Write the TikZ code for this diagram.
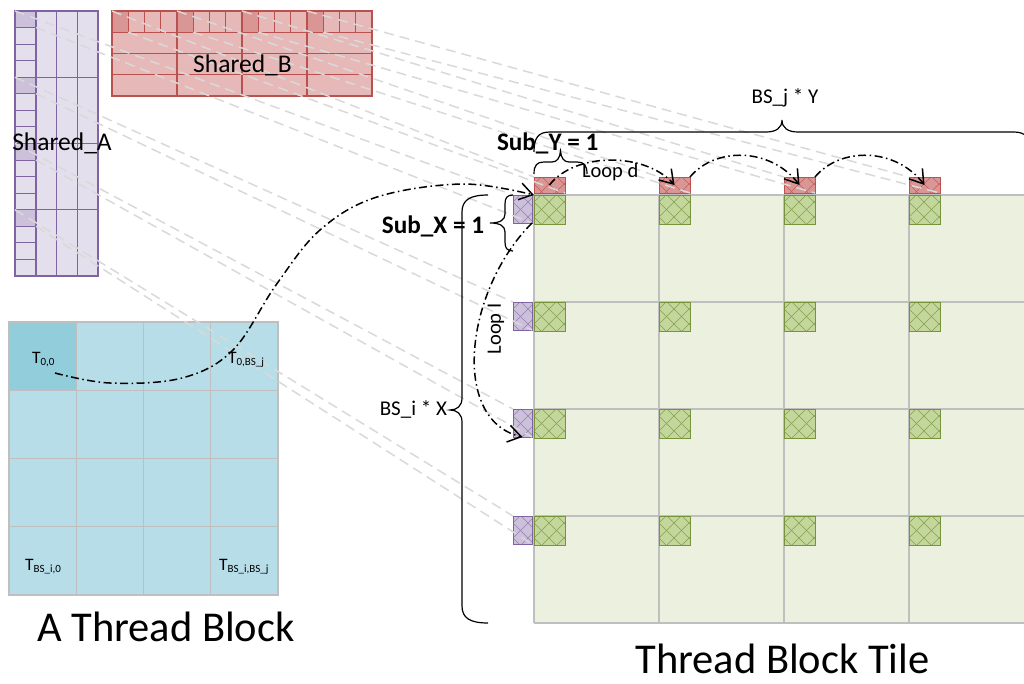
\documentclass[tikz,border=0pt]{standalone}
\usepackage{fontspec}
\setmainfont{Carlito}
\usetikzlibrary{arrows.meta,calc}
\definecolor{saFill}{HTML}{E4DFEC}
\definecolor{saDark}{HTML}{CCC0DA}
\definecolor{saLine}{HTML}{8064A2}
\definecolor{sbFill}{HTML}{E6B9B8}
\definecolor{sbDark}{HTML}{DA9694}
\definecolor{sbLine}{HTML}{B9514E}
\definecolor{tbFill}{HTML}{B7DEE8}
\definecolor{tbDark}{HTML}{92CDDC}
\definecolor{gridGray}{HTML}{BFBFBF}
\definecolor{tileFill}{HTML}{EBF1DE}
\definecolor{grFill}{HTML}{C3D69B}
\definecolor{grLine}{HTML}{77933C}
\definecolor{rdFill}{HTML}{D99694}
\definecolor{rdLine}{HTML}{C0504D}
\definecolor{puFill}{HTML}{CCC0DA}
\definecolor{dashGray}{HTML}{D9D9D9}
\newcommand\fsLbl{\fontsize{25.5}{30}\selectfont}
\newcommand\fsBig{\fontsize{42.5}{50}\selectfont}
\newcommand\fsMid{\fontsize{21}{25}\selectfont}
\newcommand\fsLoop{\fontsize{20.5}{24}\selectfont}
\newcommand\fsSub{\fontsize{25.2}{30}\selectfont\bfseries}
\newcommand\tlab[1]{\fontsize{17.5}{20}\selectfont T\raisebox{-0.35ex}{\fontsize{11}{12}\selectfont #1}}
\begin{document}
\begin{tikzpicture}[x=1pt,y=-1pt,
  cellbox/.style={inner sep=0pt, outer sep=0pt, anchor=north west},
  hatch/.style={path picture={
    \foreach \c in {-37,-22,-7,8,23,38}{
      \draw[#1,line width=0.45pt] ($(path picture bounding box.north west)+(\c,0)$) -- ++(50,50);}
    \foreach \c in {-8,7,22,37,52,67}{
      \draw[#1,line width=0.45pt] ($(path picture bounding box.north west)+(\c,0)$) -- ++(-50,50);}
  }},
  gsq/.style={cellbox, draw=grLine, fill=grFill, line width=1pt, minimum width=31pt, minimum height=29pt, hatch=grLine!80!grFill},
  rsq/.style={cellbox, draw=rdLine, fill=rdFill, line width=1pt, minimum width=31pt, minimum height=16pt, hatch=rdLine!80!rdFill},
  psq/.style={cellbox, draw=saLine, fill=puFill, line width=1pt, minimum width=19pt, minimum height=28pt, hatch=saLine!70!puFill},
  gline/.style={dashGray, line width=1.5pt, dash pattern=on 10pt off 6pt},
  gridln/.style={gridGray, line width=1.3pt},
  loopline/.style={black, line width=1.5pt, dash pattern=on 8pt off 3.5pt on 1.5pt off 3.5pt, -{Straight Barb[length=13pt,width=17pt,line width=1.5pt]}},
  bracel/.style={black, line width=1.2pt},
  txt/.style={inner sep=0pt, outer sep=0pt, text=black}
]
\useasboundingbox (0,0) rectangle (1024,683);
\clip (0,0) rectangle (1024,683);

% ---------- Shared_A ----------
\fill[saFill] (15,11) rectangle (98,276);
\foreach \i in {0,...,3}
  \node[cellbox, fill=saDark, minimum width=21pt, minimum height=16.5pt] (sa\i) at (15,{11+66.25*\i}) {};
\foreach \x in {36,56.7,77.3} \draw[saLine,line width=1.2pt] (\x,11) -- (\x,276);
\foreach \i in {1,2,3} \draw[saLine,line width=1.2pt] (15,{11+66.25*\i}) -- (98,{11+66.25*\i});
\foreach \i in {0,...,3}{\foreach \j in {1,2,3}{\draw[saLine,line width=1pt] (15,{11+66.25*\i+16.5625*\j}) -- (36,{11+66.25*\i+16.5625*\j});}}
\draw[saLine,line width=1.4pt] (15,11) rectangle (98,276);

% ---------- Shared_B ----------
\fill[sbFill] (112,11) rectangle (372,96);
\foreach \i in {0,...,3}
  \node[cellbox, fill=sbDark, minimum width=16.25pt, minimum height=21.25pt] (sb\i) at ({112+65*\i},11) {};
\foreach \i in {1,2,3} \draw[sbLine,line width=1.2pt] ({112+65*\i},11) -- ({112+65*\i},96);
\foreach \i in {1,2,3} \draw[sbLine,line width=1.2pt] (112,{11+21.25*\i}) -- (372,{11+21.25*\i});
\foreach \i in {0,...,3}{\foreach \j in {1,2,3}{\draw[sbLine,line width=1pt] ({112+65*\i+16.25*\j},11) -- ({112+65*\i+16.25*\j},32.25);}}
\draw[sbLine,line width=1.4pt] (112,11) rectangle (372,96);

% ---------- Thread block ----------
\fill[tbFill] (9,322) rectangle (278,595);
\node[cellbox, fill=tbDark, minimum width=67.25pt, minimum height=68.25pt] (tb00) at (9,322) {};
\foreach \i in {1,2,3}{
  \draw[gridln] ({9+67.25*\i},322) -- ({9+67.25*\i},595);
  \draw[gridln] (9,{322+68.25*\i}) -- (278,{322+68.25*\i});}
\draw[gridln] (9,322) rectangle (278,595);

% ---------- Thread block tile ----------
\fill[tileFill] (534,195) rectangle (1034,623);
\foreach \j in {0,...,3} \draw[gridln] ({534+125*\j},195) -- ({534+125*\j},623);
\foreach \i in {0,...,4} \draw[gridln] (534,{195+107*\i}) -- (1034,{195+107*\i});
\foreach \i in {0,...,3}{
  \node[psq] (p\i) at (513,{195+107*\i}) {};
  \foreach \j in {0,...,3} \node[gsq] (g\i\j) at ({534+125*\j},{195+107*\i}) {};
}
\foreach \j in {0,...,3} \node[rsq] (r\j) at ({534+125*\j},177) {};

% ---------- gray dashed mapping lines ----------
\foreach \k in {0,...,3}{
  \draw[gline] (sa\k.north west) -- (p\k.north west);
  \draw[gline] (sa\k.south east) -- (p\k.south east);
  \draw[gline] (sb\k.north west) -- (r\k.north west);
  \draw[gline] (sb\k.south east) -- (r\k.south east);
}

% ---------- labels ----------
\node[txt, anchor=base] (lA) at (62,150) {\fsLbl Shared\_A};
\node[txt, anchor=base] (lB) at (242.5,72) {\fsLbl Shared\_B};
\node[txt, anchor=base] (lTB) at (166,641) {\fsBig A Thread Block};
\node[txt, anchor=base] (lTT) at (782.5,673) {\fsBig Thread Block Tile};
\node[txt, anchor=base west] (t00) at (32,363) {\tlab{0,0}};
\node[txt, anchor=base west] (t0j) at (228,363) {\tlab{0,BS\_j}};
\node[txt, anchor=base west] (ti0) at (25,570) {\tlab{BS\_i,0}};
\node[txt, anchor=base west] (tij) at (219,570) {\tlab{BS\_i,BS\_j}};
\node[txt, anchor=base] (lBSj) at (785,103) {\fsMid BS\_j * Y};
\node[txt, anchor=base east] (lBSi) at (447,415) {\fsMid BS\_i * X};
\node[txt, anchor=base west] (lSubY) at (497,150.5) {\fsSub Sub\_Y = 1};
\node[txt, anchor=base east] (lSubX) at (484,233) {\fsSub Sub\_X = 1};
\node[txt, anchor=base west] (lLoopJ) at (582,177) {\fsLoop Loop d};
\node[txt, rotate=90] (lLoopI) at (496,329) {\fsLoop Loop I};

% ---------- braces ----------
\draw[bracel] (534,152) .. controls (534,138) and (538,132) .. (550,132) -- (766,132)
  .. controls (776,132) and (782,128) .. (782,120) .. controls (782,128) and (788,132) .. (798,132)
  -- (1014,132) .. controls (1026,132) and (1030,138) .. (1030,152);
\draw[bracel] (534,174) .. controls (534,165) and (537,162) .. (544,162) -- (552,162)
  .. controls (557,162) and (560,158) .. (560.5,151) .. controls (561,158) and (564,162) .. (569,162)
  -- (577,162) .. controls (584,162) and (587,165) .. (587,174);
\draw[bracel] (513,195) .. controls (507,195) and (505,198) .. (505,204) -- (505,214)
  .. controls (505,220) and (500,223) .. (490,223) .. controls (500,223) and (505,226) .. (505,232)
  -- (505,242) .. controls (505,248) and (507,251) .. (513,251);
\draw[bracel] (488,195) .. controls (470,195) and (462,200) .. (462,212) -- (462,398)
  .. controls (462,406) and (457,410) .. (450,410) .. controls (457,410) and (462,414) .. (462,422)
  -- (462,606) .. controls (462,618) and (470,623) .. (488,623);

% ---------- loops ----------
\coordinate (c00) at (55,373);
\draw[loopline] plot[smooth, tension=0.6] coordinates {(c00) (110,383) (182,378) (233,350) (276,285) (320,230) (377,197) (463,184) (g00.north west)};
\draw[loopline] (r0.center) .. controls (575,152) and (645,152) .. (r1.center);
\draw[loopline] (r1.north east) .. controls (715,147) and (770,147) .. (r2.center);
\draw[loopline] (r2.north east) .. controls (840,147) and (895,147) .. (r3.center);
\draw[loopline] (p0.south east) .. controls (465,290) and (450,420) .. (p2.south);
\end{tikzpicture}
\end{document}
